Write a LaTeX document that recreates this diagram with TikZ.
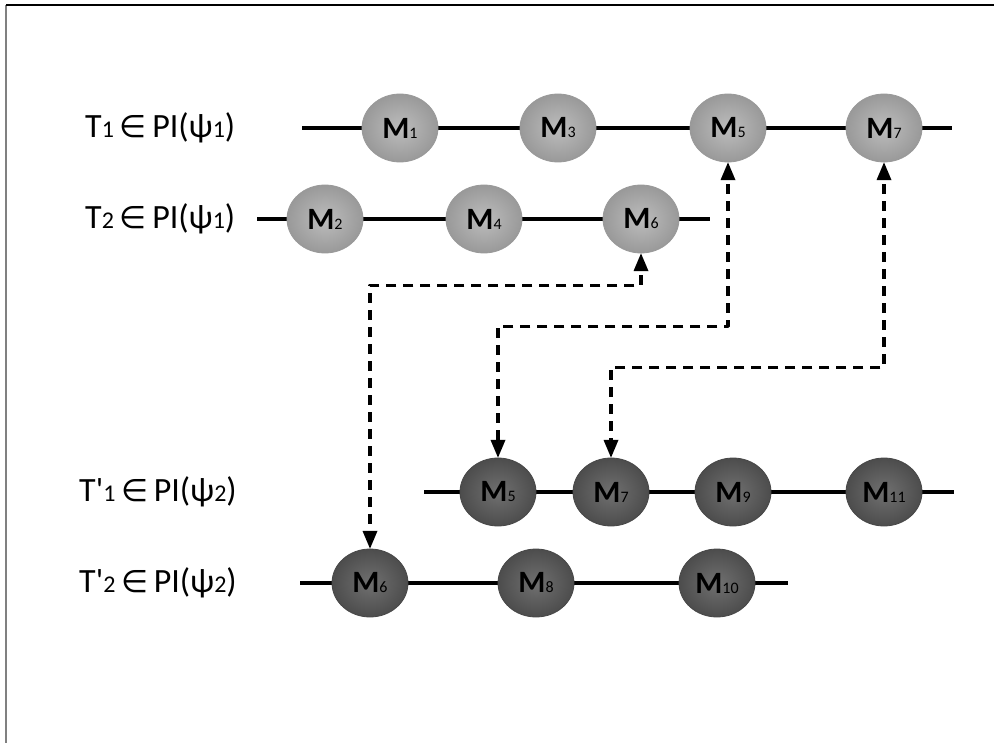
\documentclass[tikz,border=0pt]{standalone}
\usepackage{fontspec}
\setmainfont{Carlito}
\newfontfamily\symfont{DejaVu Sans}
\usetikzlibrary{shapes.geometric, arrows, calc}

\tikzset{
  mnode/.style={ellipse, minimum width=76pt, minimum height=68pt, inner sep=0pt, font=\fontsize{31}{31}\selectfont},
  lightm/.style={mnode, draw=gray!80, line width=0.8pt, inner color=gray!52, outer color=gray!80},
  darkm/.style={mnode, draw=black!72, line width=0.8pt, inner color=black!56, outer color=black!70},
  track/.style={line width=3.2pt},
  link/.style={<->, line width=3.2pt, dash pattern=on 10pt off 7pt},
  tlabel/.style={anchor=west, inner sep=0pt, font=\fontsize{34}{34}\selectfont}
}
\newcommand{\mlab}[1]{\textbf{M}{\fontsize{16}{16}\selectfont #1}}
\newcommand{\dig}[1]{{\fontsize{24}{24}\selectfont #1}}
\newcommand{\elem}{\,{\symfont\fontsize{31}{31}\selectfont ∈}\,}

\begin{document}
\begin{tikzpicture}[line join=round,>=triangle 45,x=1pt,y=-1pt]
\useasboundingbox (0,0) rectangle (995,743);
% frame
\draw[color=gray, line width=2pt] (6,743) -- (6,5);
\draw[color=black, line width=1.5pt] (6,5) -- (994,5);
% labels
\node[tlabel] (l1) at (85,128) {T\dig{1}\elem PI(ψ\dig{1})};
\node[tlabel] (l2) at (85,219) {T\dig{2}\elem PI(ψ\dig{1})};
\node[tlabel] (l3) at (79,492) {T\textquotesingle\dig{1}\elem PI(ψ\dig{2})};
\node[tlabel] (l4) at (79,583) {T\textquotesingle\dig{2}\elem PI(ψ\dig{2})};
% tracks
\coordinate (r1s) at (302,128); \coordinate (r1e) at (952,128);
\coordinate (r2s) at (257,219); \coordinate (r2e) at (710,219);
\coordinate (r3s) at (424,492); \coordinate (r3e) at (954,492);
\coordinate (r4s) at (300,583); \coordinate (r4e) at (788,583);
\draw[track] (r1s) -- (r1e);
\draw[track] (r2s) -- (r2e);
\draw[track] (r3s) -- (r3e);
\draw[track] (r4s) -- (r4e);
% messages
\foreach \n/\x in {1/400,3/558,5/728,7/884}
\node[lightm] (a\n) at (\x,128) {\mlab{\n}};
\foreach \n/\x in {2/325,4/484,6/641}
\node[lightm] (b\n) at (\x,219) {\mlab{\n}};
\foreach \n/\x in {5/498,7/611,9/733,11/884}
\node[darkm] (c\n) at (\x,492) {\mlab{\n}};
\foreach \n/\x in {6/370,8/536,10/717}
\node[darkm] (d\n) at (\x,583) {\mlab{\n}};
% links
\draw[link] (b6.south) -- ++(0,32) -| (d6.north);
\draw[link] (a5.south) -- ++(0,164) -| (c5.north);
\draw[link] (a7.south) -- ++(0,205) -| (c7.north);
\end{tikzpicture}
\end{document}
